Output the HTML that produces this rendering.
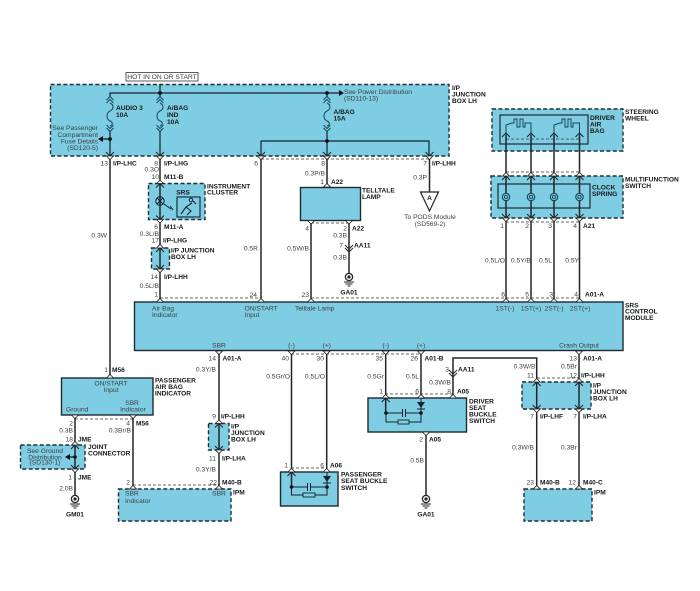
<!DOCTYPE html>
<html><head><meta charset="utf-8"><title>SRS wiring diagram</title>
<style>
html,body{margin:0;padding:0;background:#fff;width:700px;height:591px;overflow:hidden}
svg{display:block}
text{font-family:"Liberation Sans",sans-serif;font-size:6.7px;fill:#3a3f42}
.b{font-weight:bold;font-size:6.6px;fill:#15181a}
.e{text-anchor:end}
.m{text-anchor:middle}
.box{fill:#7fcde2;stroke:#1d2a30;stroke-width:1.4}
.dbox{fill:#7fcde2;stroke:#1d2f38;stroke-width:1.4;stroke-dasharray:4 2.4}
.w{fill:none;stroke:#222527;stroke-width:1.5}
.n{fill:none;stroke:#17465a;stroke-width:1}
.d{fill:none;stroke:#333;stroke-width:.8;stroke-dasharray:3 2}
</style></head><body>
<svg width="700" height="591" viewBox="0 0 700 591" xmlns="http://www.w3.org/2000/svg">
<defs>
<g id="vb"><polyline points="-4,-4 0,0 4,-4" fill="none" stroke="#222" stroke-width="1"/><polygon points="-3.5,0 0,3.5 3.5,0" fill="#fff" stroke="#222" stroke-width=".8"/></g>
<g id="ub"><polyline points="-4,4 0,0 4,4" fill="none" stroke="#222" stroke-width="1"/><polygon points="-3.5,0 0,-3.5 3.5,0" fill="#fff" stroke="#222" stroke-width=".8"/></g>
<polygon id="tu" points="-3.5,0 0,-3.5 3.5,0" fill="#fff" stroke="#222" stroke-width=".8"/>
<polygon id="td" points="-3.5,0 0,3.5 3.5,0" fill="#fff" stroke="#222" stroke-width=".8"/>
<g id="fuse" fill="none" stroke="#17465a" stroke-width="1">
<polyline points="-3.5,7 0,3.5 3.5,7"/><polyline points="-3.5,10 0,6.5 3.5,10"/>
<path d="M0 10 C4 12 4 16 0 18 C-4 20 -4 26 0 28 C3 29 3 32 0 33"/>
<polyline points="-3.5,32 0,35.5 3.5,32"/><polyline points="-3.5,35 0,38.5 3.5,35"/>
</g>
<g id="gnd"><circle r="3.6" fill="#fff" stroke="#222" stroke-width="1.3"/><circle r="1.6" fill="#222"/><path d="M-5 5H5M-3.5 7H3.5M-1.5 9H1.5" stroke="#222" stroke-width="1"/></g>
<g id="spr" fill="#7fcde2" stroke="#17465a"><circle r="3.7" stroke-width="1.2"/><circle r="1.6" stroke-width="1"/></g>
</defs>

<!-- main shapes -->
<rect x="50.5" y="84.5" width="398.5" height="71.5" class="dbox"/>
<rect x="148.5" y="183.5" width="56.5" height="36" class="dbox"/>
<rect x="151.5" y="248" width="18" height="21" class="dbox"/>
<rect x="300.5" y="187.5" width="60" height="33" class="box"/>
<rect x="492" y="109" width="131" height="42" class="dbox"/>
<rect x="491" y="176" width="132" height="42" class="dbox"/>
<rect x="134.5" y="302" width="488.5" height="48.5" class="box"/>
<rect x="61.5" y="378" width="91.5" height="37" class="box"/>
<rect x="20.5" y="445" width="64.5" height="24" class="dbox"/>
<rect x="118.5" y="489" width="112.5" height="32" class="dbox"/>
<rect x="208.5" y="423.5" width="20.5" height="26.5" class="dbox"/>
<rect x="280.5" y="472" width="57.5" height="34" class="box"/>
<rect x="368" y="398" width="98.5" height="34" class="box"/>
<rect x="522" y="382" width="69" height="27" class="dbox"/>
<rect x="524" y="489" width="68" height="32" class="dbox"/>

<!-- dashed connector lines -->
<path class="d" d="M261 159H429M311 223H349M160 298H261M311 298H580M291 354H421M506 172H579M506 222H579M75 419H133M133 485H219M537 378H579M291 468H326M385 394H453"/>
<path d="M506 139H579" fill="none" stroke="#17465a" stroke-width=".8" stroke-dasharray="3 2"/>

<!-- HOT -->
<rect x="126" y="72.5" width="72" height="8.5" fill="#fff" stroke="#333" stroke-width=".8"/>
<text x="162" y="79" class="m">HOT IN ON OR START</text>

<!-- top wires inside J-box -->
<path class="n" style="stroke:#123;stroke-width:1.2" d="M110 156V131M110 97V93H340M160 84V97M160 131V156M327 93V97M327 131V156M261 156V141H429V156"/>
<circle cx="160" cy="93" r="1.9" fill="#111"/><circle cx="327" cy="93" r="1.9" fill="#111"/><circle cx="327" cy="141" r="1.9" fill="#111"/><circle cx="110" cy="139" r="1.9" fill="#111"/>
<path d="M110 139H102" stroke="#111" stroke-width="1.2"/><polygon points="98,139 103,136 103,142" fill="#111"/>
<polygon points="344,93 339,90 339,96" fill="#111"/>
<use href="#fuse" x="110" y="93"/><use href="#fuse" x="160" y="93"/><use href="#fuse" x="327" y="93"/>

<!-- wires -->
<path class="w" d="M110 157V378M160 157V302M261 157V302M327 157V187M429.5 157V192M311 220V302M349 220V273M506 135V302M531 135V302M554 135V302M579.5 135V302M219 351V489M291.5 351V487M326.7 351V472M385.7 351V413M421 351V398M453 398V358H536.7V489M579 351V489M426 432V495M75 415V495M133 415V489"/>
<path d="M506 135V125L512 123H514V119H517V127H520V119H523V127H525V123H531V135M554 135V125L560 123H562V119H565V127H568V119H571V127H573V123H579.5V135" fill="none" stroke="#17465a" stroke-width="1"/>
<rect x="500" y="115" width="88" height="29" fill="none" stroke="#1d2a30" stroke-width="1.2"/>
<rect x="498" y="184" width="92" height="24" fill="none" stroke="#1d2a30" stroke-width="1.2"/>

<!-- triangle off-page -->
<polygon points="420.5,192 438.5,192 429.5,211" fill="#fff" stroke="#222" stroke-width="1.2"/>

<!-- cluster interior -->
<circle cx="160" cy="201" r="4.2" fill="none" stroke="#123" stroke-width="1"/>
<path d="M157 198L163 204M163 198L157 204M164 204L171 209M170 206l3 4" stroke="#123" stroke-width="1" fill="none"/>
<rect x="177" y="197" width="23" height="20" fill="none" stroke="#123" stroke-width="1.1"/>
<path d="M181 214L186 207L192 203M186 207L191 211L187 215M193 201l3 3" stroke="#123" stroke-width="1.1" fill="none"/><circle cx="191" cy="200" r="1.8" fill="none" stroke="#123"/>

<!-- clock springs -->
<use href="#spr" x="506" y="197"/><use href="#spr" x="531" y="197"/><use href="#spr" x="554" y="197"/><use href="#spr" x="579.5" y="197"/>

<!-- passenger switch interior -->
<path class="n" style="stroke:#123" d="M291.5 487H307.5M310.5 487H327M291.5 487V495H303M315 495H327V487M327 472V487M307.5 483V491M310.5 483V491"/>
<rect x="303" y="493" width="12" height="4" fill="none" stroke="#123" stroke-width=".9"/>
<circle cx="291.5" cy="487" r="1.8" fill="#111"/><circle cx="327" cy="487" r="1.8" fill="#111"/>
<polygon points="323,476 331,476 327,482" fill="#123"/><path d="M323 483H331" stroke="#123"/>
<!-- driver switch interior -->
<path class="n" style="stroke:#123" d="M386 413H402.5M405.5 413H421M386 413V422H398M409 422H421V413M421 398V413M402.5 409V417M405.5 409V417"/>
<rect x="398" y="420" width="11" height="4" fill="none" stroke="#123" stroke-width=".9"/>
<circle cx="386" cy="413" r="1.8" fill="#111"/><circle cx="421" cy="413" r="1.8" fill="#111"/>
<polygon points="417,402 425,402 421,408" fill="#123"/><path d="M417 409H425" stroke="#123"/>

<!-- connector marks -->
<use href="#vb" x="110" y="156"/><use href="#vb" x="160" y="156"/><use href="#vb" x="261" y="156"/><use href="#vb" x="327" y="156"/><use href="#vb" x="429.5" y="156"/>
<use href="#ub" x="160" y="183.5"/><use href="#vb" x="160" y="219.5"/><use href="#ub" x="160" y="248"/><use href="#vb" x="160" y="269"/>
<use href="#tu" x="327" y="187"/><use href="#td" x="311" y="220.5"/><use href="#td" x="349" y="220.5"/>
<polyline points="345,245 349,249 353,245" fill="none" stroke="#222"/><polyline points="345,248 349,252 353,248" fill="none" stroke="#222"/>
<polyline points="449,370 453,374 457,370" fill="none" stroke="#222"/><polyline points="449,373 453,377 457,373" fill="none" stroke="#222"/>
<use href="#tu" x="160" y="302"/><use href="#tu" x="261" y="302"/><use href="#tu" x="311" y="302"/><use href="#tu" x="506" y="302"/><use href="#tu" x="531" y="302"/><use href="#tu" x="554" y="302"/><use href="#tu" x="579.5" y="302"/>
<use href="#td" x="219" y="351"/><use href="#td" x="291.5" y="351"/><use href="#td" x="326.7" y="351"/><use href="#td" x="385.7" y="351"/><use href="#td" x="421" y="351"/><use href="#td" x="579" y="351"/>
<use href="#ub" x="506" y="176"/><use href="#ub" x="531" y="176"/><use href="#ub" x="554" y="176"/><use href="#ub" x="579.5" y="176"/>
<use href="#vb" x="506" y="218"/><use href="#vb" x="531" y="218"/><use href="#vb" x="554" y="218"/><use href="#vb" x="579.5" y="218"/>
<polyline points="502,137 506,133 510,137" fill="none" stroke="#123"/><polyline points="527,137 531,133 535,137" fill="none" stroke="#123"/><polyline points="550,137 554,133 558,137" fill="none" stroke="#123"/><polyline points="575.5,137 579.5,133 583.5,137" fill="none" stroke="#123"/>
<use href="#tu" x="110" y="378"/><use href="#td" x="75" y="415"/><use href="#td" x="133" y="415"/>
<use href="#ub" x="75" y="445"/><use href="#vb" x="75" y="469"/>
<use href="#ub" x="219" y="423.5"/><use href="#vb" x="219" y="450"/>
<use href="#tu" x="133" y="489"/><use href="#tu" x="219" y="489"/>
<use href="#ub" x="291.5" y="472"/><use href="#tu" x="326.7" y="472"/>
<use href="#ub" x="385.7" y="398"/><use href="#tu" x="421" y="398"/><use href="#tu" x="453" y="398"/><use href="#td" x="426" y="432"/>
<use href="#ub" x="536.7" y="382"/><use href="#ub" x="579" y="382"/><use href="#vb" x="536.7" y="409"/><use href="#vb" x="579" y="409"/>
<use href="#tu" x="536.7" y="489"/><use href="#tu" x="579" y="489"/>

<!-- grounds -->
<use href="#gnd" x="349" y="277"/><use href="#gnd" x="75" y="499"/><use href="#gnd" x="426" y="499"/>

<!-- text: J-box -->
<text x="98" y="130" class="e">See Passenger</text><text x="98" y="137" class="e">Compartment</text><text x="98" y="143.5" class="e">Fuse Details</text><text x="98" y="150" class="e">(SD120-5)</text>
<text x="116" y="110" class="b">AUDIO 3</text><text x="116" y="117" class="b">10A</text>
<text x="167" y="110" class="b">A/BAG</text><text x="167" y="117" class="b">IND</text><text x="167" y="124" class="b">10A</text>
<text x="333.5" y="114" class="b">A/BAG</text><text x="333.5" y="120.5" class="b">15A</text>
<text x="344" y="94">See Power Distribution</text><text x="344" y="100.5">(SD110-13)</text>
<text x="452" y="90" class="b">I/P</text><text x="452" y="96.5" class="b">JUNCTION</text><text x="452" y="103" class="b">BOX LH</text>

<text x="108" y="165.5" class="e">13</text><text x="113" y="165.5" class="b">I/P-LHC</text>
<text x="158" y="165.5" class="e">8</text><text x="164" y="165.5" class="b">I/P-LHG</text>
<text x="159" y="171.5" class="e">0.3O</text>
<text x="159" y="179" class="e">10</text><text x="164" y="179" class="b">M11-B</text>
<text x="207" y="188.5" class="b">INSTRUMENT</text><text x="207" y="194.5" class="b">CLUSTER</text>
<text x="183" y="194.5" class="b m">SRS</text>
<text x="158" y="229" class="e">6</text><text x="164" y="229" class="b">M11-A</text>
<text x="159" y="236" class="e">0.3L/B</text>
<text x="159" y="242.5" class="e">17</text><text x="163" y="242.5" class="b">I/P-LHG</text>
<text x="171" y="252.5" class="b">I/P JUNCTION</text><text x="171" y="259" class="b">BOX LH</text>
<text x="158" y="279" class="e">14</text><text x="164" y="279" class="b">I/P-LHH</text>
<text x="159" y="288" class="e">0.5L/B</text><text x="158" y="296.5" class="e">1</text>
<text x="107" y="237.5" class="e">0.3W</text>
<text x="258" y="250.5" class="e">0.5R</text><text x="258" y="165.5" class="e">6</text><text x="257" y="297" class="e">24</text>
<text x="325" y="165.5" class="e">8</text><text x="427" y="165.5" class="e">7</text><text x="432" y="165.5" class="b">I/P-LHH</text>
<text x="325" y="175.5" class="e">0.3P/B</text><text x="324" y="184" class="e">1</text><text x="331" y="184" class="b">A22</text>
<text x="362" y="192.5" class="b">TELLTALE</text><text x="362" y="199" class="b">LAMP</text>
<text x="427" y="179.5" class="e">0.3P</text><text x="429.5" y="200" class="b m">A</text>
<text x="430" y="219" class="m">To PODS Module</text><text x="430" y="226" class="m">(SD569-2)</text>
<text x="309" y="230.5" class="e">4</text><text x="347" y="230.5" class="e">2</text><text x="352" y="230.5" class="b">A22</text>
<text x="347" y="237.5" class="e">0.3B</text><text x="343" y="247.5" class="e">7</text><text x="354" y="247.5" class="b">AA11</text>
<text x="347" y="259.5" class="e">0.3B</text><text x="309" y="250.5" class="e">0.5W/B</text>
<text x="349" y="294.5" class="b m">GA01</text><text x="309" y="297" class="e">23</text>

<!-- text: right top -->
<text x="590" y="120" class="b">DRIVER</text><text x="590" y="126.5" class="b">AIR</text><text x="590" y="133" class="b">BAG</text>
<text x="625" y="114" class="b">STEERING</text><text x="625" y="120.5" class="b">WHEEL</text>
<text x="625" y="181.5" class="b">MULTIFUNCTION</text><text x="625" y="188" class="b">SWITCH</text>
<text x="592" y="189.5" class="b">CLOCK</text><text x="592" y="196" class="b">SPRING</text>
<text x="504" y="228" class="e">1</text><text x="529" y="228" class="e">2</text><text x="552" y="228" class="e">3</text><text x="577" y="228" class="e">4</text><text x="583" y="228" class="b">A21</text>
<text x="505" y="262.5" class="e">0.5L/O</text><text x="531" y="262.5" class="e">0.5Y/B</text><text x="552" y="262.5" class="e">0.5L</text><text x="579" y="262.5" class="e">0.5Y</text>
<text x="505" y="296.5" class="e">6</text><text x="529" y="296.5" class="e">5</text><text x="553" y="296.5" class="e">3</text><text x="578" y="296.5" class="e">4</text><text x="585" y="296.5" class="b">A01-A</text>
<text x="625" y="307.5" class="b">SRS</text><text x="625" y="313.5" class="b">CONTROL</text><text x="625" y="320" class="b">MODULE</text>

<!-- text: module -->
<text x="152" y="310.5">Air Bag</text><text x="152" y="317">Indicator</text>
<text x="244.5" y="310.5">ON/START</text><text x="244.5" y="317">Input</text>
<text x="295" y="310.5">Telltale Lamp</text>
<text x="505" y="310.5" class="m">1ST(-)</text><text x="531" y="310.5" class="m">1ST(+)</text><text x="554" y="310.5" class="m">2ST(-)</text><text x="580" y="310.5" class="m">2ST(+)</text>
<text x="219" y="347.5" class="m">SBR</text><text x="291.5" y="347.5" class="m">(-)</text><text x="326.7" y="347.5" class="m">(+)</text><text x="385.7" y="347.5" class="m">(-)</text><text x="421" y="347.5" class="m">(+)</text><text x="579" y="347.5" class="m">Crash Output</text>

<!-- text: lower -->
<text x="216" y="360.5" class="e">14</text><text x="222.5" y="360.5" class="b">A01-A</text><text x="216" y="371.5" class="e">0.3Y/B</text>
<text x="289" y="360.5" class="e">40</text><text x="324" y="360.5" class="e">30</text><text x="383" y="360.5" class="e">35</text><text x="418" y="360.5" class="e">26</text><text x="424.5" y="360.5" class="b">A01-B</text>
<text x="290" y="378.5" class="e">0.5Gr/O</text><text x="325" y="378.5" class="e">0.5L/O</text><text x="384" y="378.5" class="e">0.5Gr</text><text x="419" y="378.5" class="e">0.5L</text>
<text x="577" y="360.5" class="e">13</text><text x="583" y="360.5" class="b">A01-A</text>
<text x="577" y="368.5" class="e">0.5Br</text><text x="535.5" y="368.5" class="e">0.3W/B</text>
<text x="534" y="377.5" class="e">11</text><text x="577" y="377.5" class="e">12</text><text x="581" y="377.5" class="b">I/P-LHH</text>
<text x="449" y="371.5" class="e">3</text><text x="458" y="371.5" class="b">AA11</text><text x="451" y="384.5" class="e">0.3W/B</text>
<text x="419" y="393.5" class="e">6</text><text x="383" y="393.5" class="e">1</text><text x="451" y="393.5" class="e">8</text><text x="457" y="393.5" class="b">A05</text>
<text x="469" y="403.5" class="b">DRIVER</text><text x="469" y="410" class="b">SEAT</text><text x="469" y="416.5" class="b">BUCKLE</text><text x="469" y="423" class="b">SWITCH</text>
<text x="593" y="387.5" class="b">I/P</text><text x="593" y="394" class="b">JUNCTION</text><text x="593" y="400.5" class="b">BOX LH</text>
<text x="534" y="418.5" class="e">7</text><text x="540" y="418.5" class="b">I/P-LHF</text><text x="577" y="418.5" class="e">7</text><text x="583" y="418.5" class="b">I/P-LHA</text>
<text x="534" y="449.5" class="e">0.3W/B</text><text x="577" y="449.5" class="e">0.3Br</text>
<text x="534" y="484.5" class="e">23</text><text x="540" y="484.5" class="b">M40-B</text><text x="576" y="484.5" class="e">12</text><text x="583" y="484.5" class="b">M40-C</text>
<text x="594" y="494.5" class="b">IPM</text>
<text x="423" y="441.5" class="e">2</text><text x="429" y="441.5" class="b">A05</text><text x="424" y="462.5" class="e">0.5B</text><text x="426" y="516.5" class="b m">GA01</text>
<text x="216" y="418.5" class="e">9</text><text x="221" y="418.5" class="b">I/P-LHH</text>
<text x="231" y="428.5" class="b">I/P</text><text x="231" y="435" class="b">JUNCTION</text><text x="231" y="441.5" class="b">BOX LH</text>
<text x="216" y="460.5" class="e">11</text><text x="222" y="460.5" class="b">I/P-LHA</text><text x="216" y="471.5" class="e">0.3Y/B</text>
<text x="217" y="484.5" class="e">22</text><text x="222" y="484.5" class="b">M40-B</text><text x="219" y="495.5" class="m">SBR</text><text x="233" y="494.5" class="b">IPM</text>
<text x="288" y="467.5" class="e">1</text><text x="324" y="467.5" class="e">6</text><text x="330" y="467.5" class="b">A06</text>
<text x="341" y="476.5" class="b">PASSENGER</text><text x="341" y="483" class="b">SEAT BUCKLE</text><text x="341" y="490" class="b">SWITCH</text>
<text x="155" y="382.5" class="b">PASSENGER</text><text x="155" y="389" class="b">AIR BAG</text><text x="155" y="395.5" class="b">INDICATOR</text>
<text x="111" y="385.5" class="m">ON/START</text><text x="111" y="392" class="m">Input</text>
<text x="66" y="411.5">Ground</text><text x="132" y="405" class="m">SBR</text><text x="133" y="411.5" class="m">Indicator</text>
<text x="108" y="372" class="e">1</text><text x="112" y="372" class="b">M56</text>
<text x="73" y="425.5" class="e">2</text><text x="73" y="432.5" class="e">0.3B</text><text x="130" y="425.5" class="e">4</text><text x="136" y="425.5" class="b">M56</text><text x="131" y="432.5" class="e">0.3Br/B</text>
<text x="73" y="441.5" class="e">18</text><text x="78" y="441.5" class="b">JME</text>
<text x="88" y="449" class="b">JOINT</text><text x="88" y="455.5" class="b">CONNECTOR</text>
<text x="45" y="453" class="m">See Ground</text><text x="45" y="459.5" class="m">Distribution</text><text x="45" y="464.5" class="m">(SD130-1)</text>
<path d="M75 457H68" stroke="#111" stroke-width="1.2"/><polygon points="65,457 70,454 70,460" fill="#111"/><circle cx="75" cy="457" r="1.8" fill="#111"/>
<text x="72" y="479.5" class="e">1</text><text x="78" y="479.5" class="b">JME</text><text x="73" y="490.5" class="e">2.0B</text><text x="75" y="516.5" class="b m">GM01</text>
<text x="130" y="484.5" class="e">2</text><text x="125" y="495.5">SBR</text><text x="125" y="503">Indicator</text>
</svg>
</body></html>
